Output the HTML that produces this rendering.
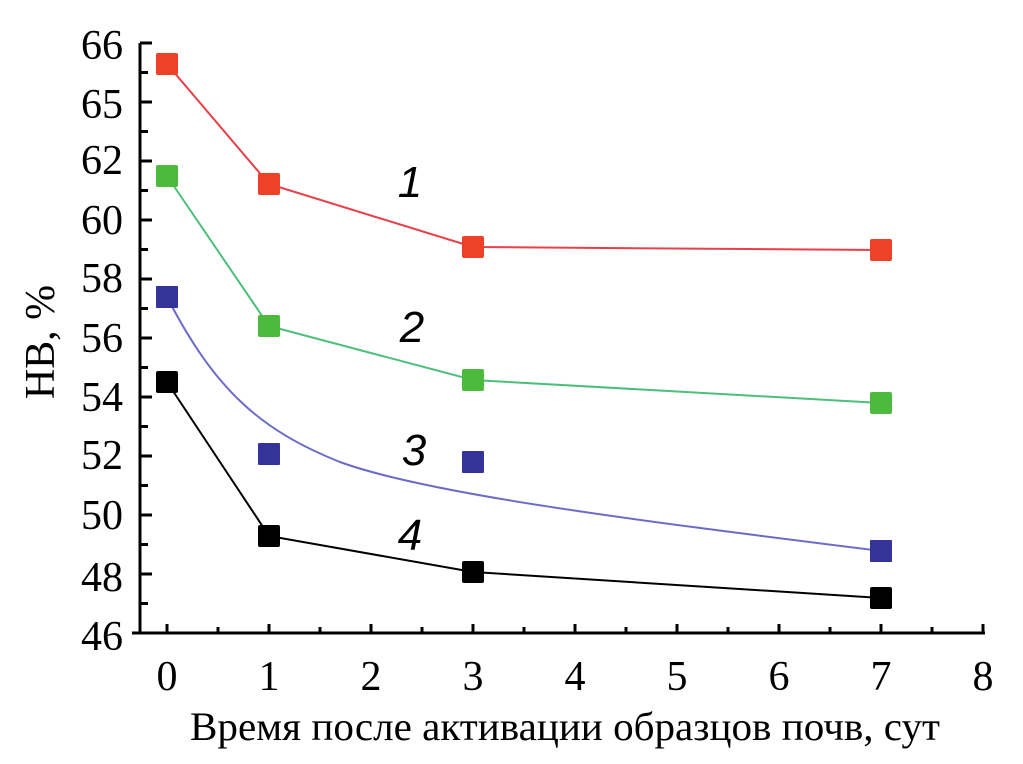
<!DOCTYPE html>
<html><head><meta charset="utf-8"><style>body{margin:0;background:#fff}svg{display:block}</style></head>
<body>
<svg width="1023" height="764" viewBox="0 0 1023 764" xmlns="http://www.w3.org/2000/svg">
<rect width="1023" height="764" fill="#fff"/>
<g stroke="#000" stroke-width="3" fill="none">
<path d="M140,43 V633 M132,633 H985"/>
<path d="M140,43 H152 M140,102 H152 M140,161 H152 M140,220 H152 M140,279 H152 M140,338 H152 M140,397 H152 M140,456 H152 M140,515 H152 M140,574 H152"/>
<path d="M140,72.5 H148 M140,131.5 H148 M140,190.5 H148 M140,249.5 H148 M140,308.5 H148 M140,367.5 H148 M140,426.5 H148 M140,485.5 H148 M140,544.5 H148 M140,603.5 H148"/>
<path d="M167,633 V624 M269,633 V624 M371,633 V624 M473,633 V624 M575,633 V624 M677,633 V624 M779,633 V624 M881,633 V624 M983,633 V624"/>
<path d="M218,633 V627 M320,633 V627 M422,633 V627 M524,633 V627 M626,633 V627 M728,633 V627 M830,633 V627 M932,633 V627"/>
</g>
<g font-family="Liberation Serif, serif" font-size="42" fill="#000" text-anchor="end">
<text x="123" y="59">66</text><text x="123" y="118">65</text><text x="123" y="174">62</text>
<text x="123" y="234">60</text><text x="123" y="292">58</text><text x="123" y="352">56</text>
<text x="123" y="411">54</text><text x="123" y="469">52</text><text x="123" y="529">50</text>
<text x="123" y="591">48</text><text x="123" y="650">46</text>
</g>
<g font-family="Liberation Serif, serif" font-size="42" fill="#000" text-anchor="middle">
<text x="167" y="690">0</text><text x="269" y="690">1</text><text x="371" y="690">2</text>
<text x="473" y="690">3</text><text x="575" y="690">4</text><text x="677" y="690">5</text>
<text x="779" y="690">6</text><text x="881" y="690">7</text><text x="983" y="690">8</text>
<text x="565" y="740" font-size="40" textLength="750" lengthAdjust="spacingAndGlyphs">Время после активации образцов почв, сут</text>
<text transform="translate(54,342) rotate(-90)" font-size="42">НВ, %</text>
</g>
<g font-family="Liberation Sans, sans-serif" font-size="44" font-style="italic" fill="#000" text-anchor="middle">
<text x="410" y="197">1</text><text x="412" y="342">2</text><text x="414" y="465">3</text><text x="410" y="550">4</text>
</g>
<g fill="none" stroke-width="2">
<polyline stroke="#e8404a" points="167,64 269,184 473,247 881,250"/>
<polyline stroke="#4cc07a" points="167,176 269,326 473,380 881,403"/>
<path stroke="#6c6cc8" d="M167,297 C215,390 260,430 340,462 C430,495 650,522 881,551"/>
<polyline stroke="#000" points="167,382 269,536 473,572 881,598"/>
</g>
<g fill="#ee4228">
<rect x="156" y="53" width="22" height="22" rx="2"/><rect x="258" y="173" width="22" height="22" rx="2"/>
<rect x="462" y="236" width="22" height="22" rx="2"/><rect x="870" y="239" width="22" height="22" rx="2"/>
</g>
<g fill="#4cba3c">
<rect x="156" y="165" width="22" height="22" rx="2"/><rect x="258" y="315" width="22" height="22" rx="2"/>
<rect x="462" y="369" width="22" height="22" rx="2"/><rect x="870" y="392" width="22" height="22" rx="2"/>
</g>
<g fill="#33339a">
<rect x="156" y="286" width="22" height="22" rx="1"/><rect x="258" y="443" width="22" height="22" rx="1"/>
<rect x="462" y="451" width="22" height="22" rx="1"/><rect x="870" y="540" width="22" height="22" rx="1"/>
</g>
<g fill="#000">
<rect x="156" y="371" width="22" height="22" rx="2"/><rect x="258" y="525" width="22" height="22" rx="2"/>
<rect x="462" y="561" width="22" height="22" rx="2"/><rect x="870" y="587" width="22" height="22" rx="2"/>
</g>
</svg>
</body></html>
